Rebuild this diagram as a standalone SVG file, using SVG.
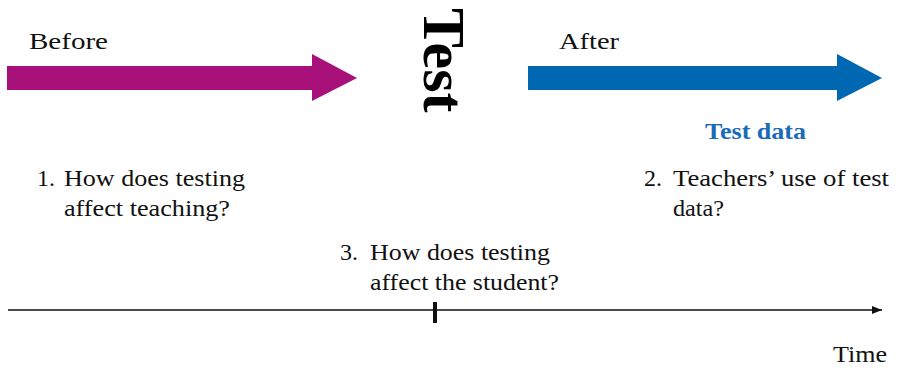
<svg xmlns="http://www.w3.org/2000/svg" width="898" height="370" viewBox="0 0 898 370">
  <style>
    .lbl { font-family: "Liberation Serif", "Times New Roman", serif; font-size: 24px; fill: #111; }
    .big { font-family: "Liberation Serif", "Times New Roman", serif; font-size: 60px; font-weight: bold; fill: #000; }
    .data { font-family: "Liberation Serif", "Times New Roman", serif; font-size: 24px; font-weight: bold; fill: #1a6bb5; }
    .axis { stroke: #111; stroke-width: 1.5; fill: none; }
  </style>
  <defs>
    <marker id="axisHead" viewBox="0 0 10 8" refX="10" refY="4" markerWidth="10" markerHeight="8" markerUnits="userSpaceOnUse" orient="auto">
      <path d="M0,0 L10,4 L0,8 Z" fill="#111"/>
    </marker>
  </defs>

  <rect width="898" height="370" fill="#fff"/>

  <!-- phase before the test -->
  <g id="before">
    <path d="M7,66 H312 V54 L357,78 L312,101 V90 H7 Z" fill="#a8107a"/>
    <text class="lbl" x="29" y="49" textLength="79" lengthAdjust="spacingAndGlyphs">Before</text>
  </g>

  <!-- the test itself -->
  <g id="test">
    <text class="big" transform="translate(424,8) rotate(90)" x="0" y="0">Test</text>
  </g>

  <!-- phase after the test -->
  <g id="after">
    <path d="M528,66 H837 V54 L882,78 L837,101 V90 H528 Z" fill="#0067b2"/>
    <text class="lbl" x="559" y="49" textLength="60" lengthAdjust="spacingAndGlyphs">After</text>
    <text class="data" x="705" y="139" textLength="101" lengthAdjust="spacingAndGlyphs">Test data</text>
  </g>

  <!-- research questions -->
  <g id="q1">
    <text class="lbl" x="37" y="186">1.</text>
    <text class="lbl" x="64" y="186" textLength="181" lengthAdjust="spacingAndGlyphs">How does testing</text>
    <text class="lbl" x="64" y="216" textLength="166" lengthAdjust="spacingAndGlyphs">affect teaching?</text>
  </g>
  <g id="q2">
    <text class="lbl" x="644" y="186">2.</text>
    <text class="lbl" x="673" y="186" textLength="216" lengthAdjust="spacingAndGlyphs">Teachers’ use of test</text>
    <text class="lbl" x="673" y="216" textLength="51" lengthAdjust="spacingAndGlyphs">data?</text>
  </g>
  <g id="q3">
    <text class="lbl" x="340" y="260">3.</text>
    <text class="lbl" x="370" y="260" textLength="180" lengthAdjust="spacingAndGlyphs">How does testing</text>
    <text class="lbl" x="370" y="290" textLength="189" lengthAdjust="spacingAndGlyphs">affect the student?</text>
  </g>

  <!-- time axis -->
  <g id="connectors">
    <line class="axis" x1="8" y1="310" x2="882" y2="310" marker-end="url(#axisHead)"/>
    <line x1="435" y1="302" x2="435" y2="323" stroke="#111" stroke-width="4"/>
  </g>
  <g id="time">
    <text class="lbl" x="833" y="362" textLength="54" lengthAdjust="spacingAndGlyphs">Time</text>
  </g>
</svg>
